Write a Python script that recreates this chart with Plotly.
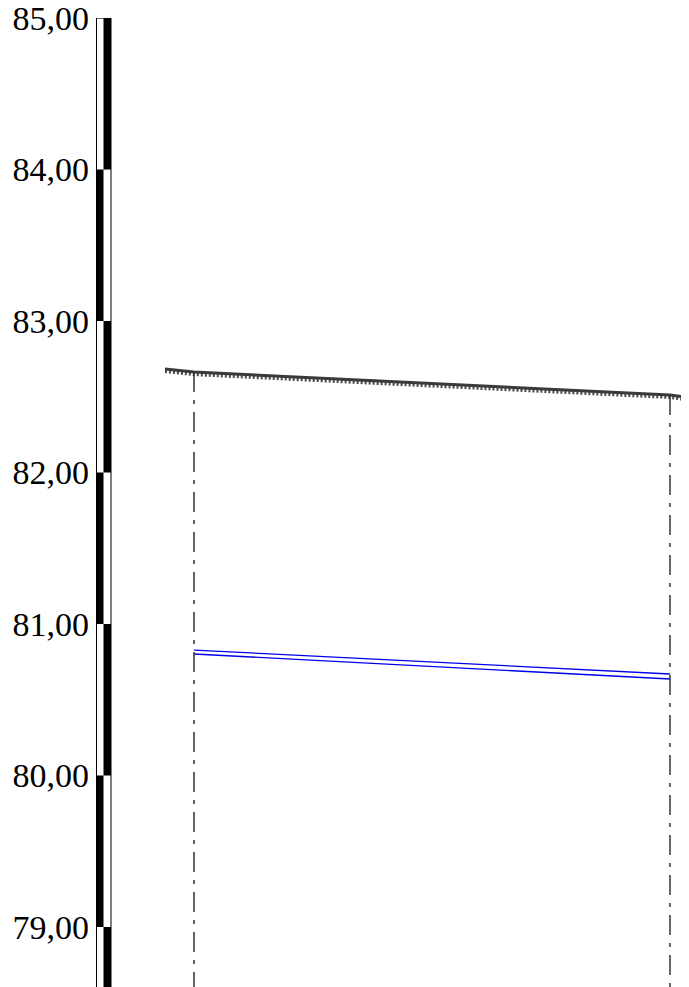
import plotly.graph_objects as go

# ---- data ----
scale_ticks = [79, 80, 81, 82, 83, 84, 85]
scale_labels = ["79,00", "80,00", "81,00", "82,00", "83,00", "84,00", "85,00"]
y_min, y_max = 78.551, 85.0

# scale bar segments: (bottom, top, black column: 0=left, 1=right)
seg_bottoms = [84, 83, 82, 81, 80, 79, 78.551]
seg_tops = [85, 84, 83, 82, 81, 80, 79]
seg_black = [1, 0, 1, 0, 1, 0, 1]

# ground profile (chainage, elevation)
ground_x = [-2.9, 0.0, 47.6, 50.3]
ground_y = [82.683, 82.663, 82.512, 82.487]

# pipe (double blue line)
pipe_x = [0.0, 47.6]
pipe_top = [80.828, 80.670]
pipe_bot = [80.802, 80.637]

# stations (vertical dash-dot lines)
station_x = [0.0, 47.6]
station_ground = [82.663, 82.512]

x_min, x_max = -9.8, 50.3
bar_left, bar_mid, bar_right = -9.8, -9.05, -8.3

fig = go.Figure()

# ground line with hatching
fig.add_trace(go.Scatter(x=ground_x, y=[v - 0.015 for v in ground_y], mode="lines",
                         line=dict(color="#4a4a4a", width=3.5, dash="2px,2px"), hoverinfo="skip"))
fig.add_trace(go.Scatter(x=ground_x, y=ground_y, mode="lines",
                         line=dict(color="#3a3a3a", width=3), hoverinfo="skip"))

# pipe lines
fig.add_trace(go.Scatter(x=pipe_x, y=pipe_top, mode="lines",
                         line=dict(color="#0000ee", width=1.3), hoverinfo="skip"))
fig.add_trace(go.Scatter(x=pipe_x, y=pipe_bot, mode="lines",
                         line=dict(color="#0000ee", width=1.3), hoverinfo="skip"))

# station lines
for sx, sg in zip(station_x, station_ground):
    fig.add_trace(go.Scatter(x=[sx, sx], y=[sg, y_min], mode="lines",
                             line=dict(color="#333333", width=1.5, dash="20px,8px,4px,8px"),
                             hoverinfo="skip"))

# scale bar
shapes = []
for b, t, k in zip(seg_bottoms, seg_tops, seg_black):
    x0, x1 = (bar_left, bar_mid) if k == 0 else (bar_mid, bar_right)
    shapes.append(dict(type="rect", xref="x", yref="y", x0=x0, x1=x1, y0=b, y1=t,
                       fillcolor="black", line=dict(width=0), layer="above"))
shapes.append(dict(type="rect", xref="x", yref="y", x0=bar_left + 0.05, x1=bar_right,
                   y0=y_min, y1=y_max, fillcolor="rgba(0,0,0,0)",
                   line=dict(color="black", width=1), layer="above"))

fig.update_layout(
    width=689, height=987,
    margin=dict(l=88, r=0, t=10, b=0, pad=0, autoexpand=False),
    paper_bgcolor="white", plot_bgcolor="white",
    showlegend=False,
    shapes=shapes,
    font=dict(family="Liberation Serif, Times New Roman, serif", size=34, color="black"),
    xaxis=dict(range=[x_min, x_max], visible=False, showgrid=False, zeroline=False,
               automargin=False),
    yaxis=dict(range=[y_min, y_max + 0.0005], tickvals=scale_ticks, ticktext=scale_labels,
               showgrid=False, zeroline=False, showline=False, ticks="", automargin=False,
               ticklabeloverflow="allow",
               ticklabelstandoff=6, tickfont=dict(size=34, color="black")),
)

fig.write_html("out.html")
